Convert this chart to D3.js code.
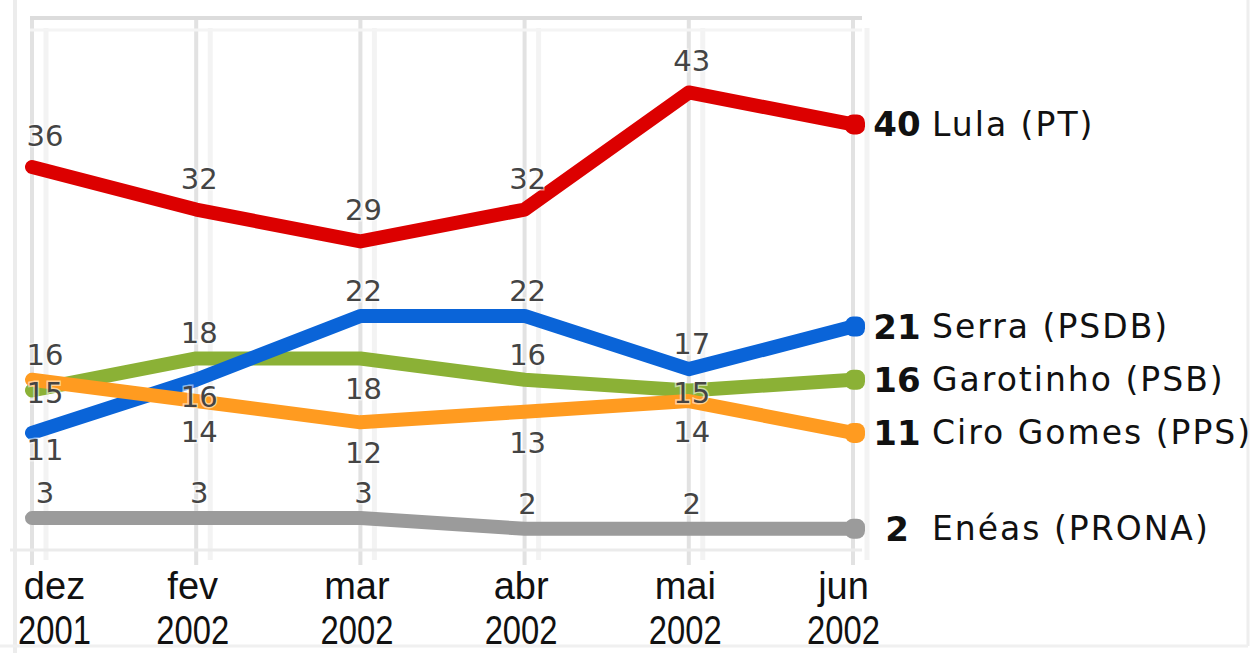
<!DOCTYPE html>
<html>
<head>
<meta charset="utf-8">
<script src="https://cdn.jsdelivr.net/npm/d3@7"></script>
<style>
  html, body { margin: 0; padding: 0; background: #fff; }
  svg { display: block; }
</style>
</head>
<body>
<svg id="chart" width="1255" height="653"></svg>
<script>
// ---- data ----
const months = ["dez", "fev", "mar", "abr", "mai", "jun"];
const years  = ["2001", "2002", "2002", "2002", "2002", "2002"];
const lula      = [36, 32, 29, 32, 43, 40];
const serra     = [11, 16, 22, 22, 17, 21];
const garotinho = [15, 18, 18, 16, 15, 16];
const ciro      = [16, 14, 12, 13, 14, 11];
const eneas     = [3, 3, 3, 2, 2, 2];
const names = ["Enéas (PRONA)", "Garotinho (PSB)", "Serra (PSDB)", "Ciro Gomes (PPS)", "Lula (PT)"];
// label placement per point: A/a = above, b = below, s = just below, o = on the line
const placeLula      = ["A", "A", "A", "A", "A"];
const placeSerra     = ["s", "s", "a", "a", "a"];
const placeGarotinho = ["o", "a", "b", "a", "o"];
const placeCiro      = ["a", "b", "b", "b", "b"];
const placeEneas     = ["a", "a", "a", "a", "a"];

const series = [
  { name: names[0], values: eneas,     place: placeEneas,     color: "#9b9b9b" },
  { name: names[1], values: garotinho, place: placeGarotinho, color: "#8bb136" },
  { name: names[2], values: serra,     place: placeSerra,     color: "#0a64d8" },
  { name: names[3], values: ciro,      place: placeCiro,      color: "#ff9b20" },
  { name: names[4], values: lula,      place: placeLula,      color: "#dc0000" }
];

const svg = d3.select("#chart");
const x = d3.scalePoint().domain(months).range([32, 853]);
const y = d3.scaleLinear().domain([0, 50]).range([550, 18]);

// frame / grid
const grid = svg.append("g");
grid.append("line").attr("x1", 15).attr("x2", 15).attr("y1", 0).attr("y2", 653)
  .attr("stroke", "#ececec").attr("stroke-width", 4);
grid.append("line").attr("x1", 1248).attr("x2", 1248).attr("y1", 0).attr("y2", 646)
  .attr("stroke", "#eeeeee").attr("stroke-width", 3);
grid.append("line").attr("x1", 0).attr("x2", 1248).attr("y1", 646).attr("y2", 646)
  .attr("stroke", "#f0f0f0").attr("stroke-width", 3);
months.forEach(m => {
  grid.append("line").attr("x1", x(m) + 14).attr("x2", x(m) + 14)
    .attr("y1", y(50) + 10).attr("y2", 560)
    .attr("stroke", "#f3f3f3").attr("stroke-width", 5);
  grid.append("line").attr("x1", x(m)).attr("x2", x(m))
    .attr("y1", y(50)).attr("y2", 565)
    .attr("stroke", "#e2e2e2").attr("stroke-width", 4);
});
grid.append("line").attr("x1", 30).attr("x2", 862).attr("y1", y(50)).attr("y2", y(50))
  .attr("stroke", "#dcdcdc").attr("stroke-width", 4);
grid.append("line").attr("x1", 30).attr("x2", 862).attr("y1", y(50) + 12).attr("y2", y(50) + 12)
  .attr("stroke", "#f4f4f4").attr("stroke-width", 3);
grid.append("line").attr("x1", 10).attr("x2", 862).attr("y1", y(0)).attr("y2", y(0))
  .attr("stroke", "#ebebeb").attr("stroke-width", 3);

// x axis
const xAxis = svg.append("g").attr("transform", "translate(0,599)")
  .call(d3.axisBottom(x).tickSize(0).tickPadding(0));
xAxis.select(".domain").remove();
xAxis.selectAll(".tick").each(function(d, i) {
  const tick = d3.select(this);
  tick.select("text").remove();
  const dx = i === 0 ? 22 : (i === 5 ? -10 : -4);
  const g = tick.append("g").attr("transform", `translate(${dx},0)`)
    .attr("font-family", "'Liberation Sans', Arial, sans-serif")
    .attr("fill", "#111").attr("text-anchor", "middle");
  g.append("text").attr("y", 0).attr("font-size", 38).text(d);
  g.append("text").attr("y", 45).attr("font-size", 40)
    .attr("transform", "scale(0.82,1)").text(years[i]);
});

// lines
const line = d3.line().x((d, i) => x(months[i])).y(d => y(d)).curve(d3.curveLinear);
svg.append("g").selectAll("path").data(series).join("path")
  .attr("d", s => line(s.values))
  .attr("fill", "none")
  .attr("stroke", s => s.color)
  .attr("stroke-width", 14)
  .attr("stroke-linecap", "round")
  .attr("stroke-linejoin", "round");

// end markers
svg.append("g").selectAll("rect").data(series).join("rect")
  .attr("x", x(months[5]) - 8)
  .attr("y", s => y(s.values[5]) - 10)
  .attr("width", 20).attr("height", 20).attr("rx", 8)
  .attr("fill", s => s.color);

// data labels (not for the last month)
const offs = { A: -31, a: -25, b: 31, s: 17, o: 3 };
const lbl = svg.append("g")
  .attr("font-family", "'DejaVu Sans', Verdana, sans-serif")
  .attr("font-size", 29)
  .attr("text-anchor", "middle")
  .attr("dominant-baseline", "central");
series.forEach(s => {
  s.values.slice(0, 5).forEach((v, i) => {
    lbl.append("text")
      .attr("x", x(months[i]) + (i === 0 ? 13 : 3))
      .attr("y", y(v) + offs[s.place[i]])
      .attr("fill", "#444")
      .attr("stroke", "rgba(255,255,255,0.55)")
      .attr("stroke-width", 3)
      .attr("paint-order", "stroke")
      .text(v);
  });
});

// legend at line ends
const leg = svg.append("g")
  .attr("font-family", "'DejaVu Sans', Verdana, sans-serif")
  .attr("dominant-baseline", "central");
series.forEach(s => {
  const yy = y(s.values[5]);
  leg.append("text").attr("x", 897).attr("y", yy).attr("text-anchor", "middle")
    .attr("font-size", 34).attr("font-weight", "bold").attr("fill", "#111").text(s.values[5]);
  leg.append("text").attr("x", 932).attr("y", yy).attr("letter-spacing", 2)
    .attr("font-size", 33).attr("fill", "#111").text(s.name);
});
</script>
</body>
</html>
